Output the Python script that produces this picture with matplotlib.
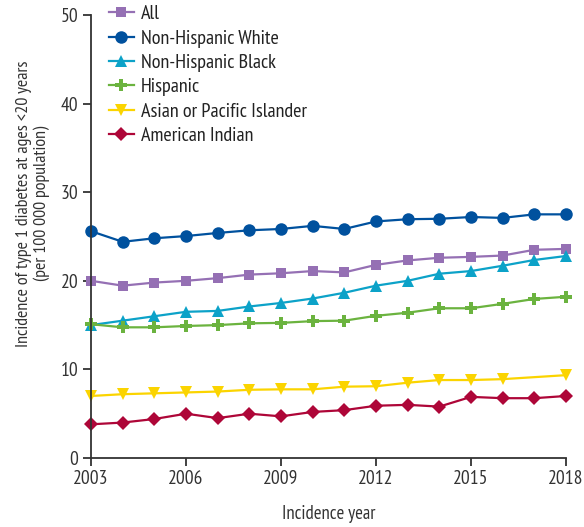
import matplotlib
matplotlib.use("Agg")
import matplotlib.pyplot as plt

years = list(range(2003, 2019))
years_api = [y for y in years if y != 2017]

all_groups = [20.0, 19.45, 19.8, 20.0, 20.3, 20.7, 20.85, 21.1, 20.95, 21.8, 22.3, 22.6, 22.7, 22.85, 23.5, 23.6]
nh_white = [25.6, 24.4, 24.8, 25.05, 25.4, 25.7, 25.85, 26.2, 25.85, 26.7, 26.95, 27.0, 27.2, 27.1, 27.5, 27.5]
nh_black = [15.0, 15.5, 16.0, 16.5, 16.6, 17.1, 17.5, 18.0, 18.65, 19.45, 20.0, 20.8, 21.1, 21.7, 22.35, 22.8]
hispanic = [15.1, 14.75, 14.75, 14.9, 15.0, 15.2, 15.25, 15.45, 15.5, 16.05, 16.4, 16.9, 16.9, 17.4, 17.95, 18.2]
asian_pi = [7.0, 7.2, 7.3, 7.4, 7.5, 7.7, 7.75, 7.75, 8.05, 8.1, 8.5, 8.8, 8.8, 8.9, 9.35]
am_indian = [3.8, 4.0, 4.4, 5.0, 4.5, 5.0, 4.7, 5.2, 5.4, 5.9, 6.0, 5.8, 6.9, 6.75, 6.75, 7.0]

labels = ["All", "Non-Hispanic White", "Non-Hispanic Black", "Hispanic",
          "Asian or Pacific Islander", "American Indian"]
xticks = [2003, 2006, 2009, 2012, 2015, 2018]
yticks = [0, 10, 20, 30, 40, 50]

plt.rcParams['font.family'] = ['PT Sans Narrow', 'Liberation Sans Narrow', 'DejaVu Sans']

fig = plt.figure(figsize=(5.84, 5.27), dpi=100)
ax = fig.add_axes([91 / 584, 1 - 458 / 527, 475 / 584, 443 / 527])

series = [
    (years, all_groups, "#9570B4", "s", 7.5),
    (years, nh_white, "#00519E", "o", 9),
    (years, nh_black, "#0CA2C8", "^", 8),
    (years, hispanic, "#6BB33F", "P", 8.5),
    (years_api, asian_pi, "#FBD400", "v", 8),
    (years, am_indian, "#AE0638", "D", 7.5),
]

for (x, y, c, m, ms), lab in zip(series, labels):
    ax.plot(x, y, color=c, marker=m, markersize=ms, linewidth=1.6,
            label=lab, clip_on=False, markeredgewidth=0)

ax.set_xlim(2003, 2018)
ax.set_ylim(0, 50)
ax.set_xticks(xticks)
ax.set_yticks(yticks)
for s in ["top", "right"]:
    ax.spines[s].set_visible(False)
for s in ["left", "bottom"]:
    ax.spines[s].set_linewidth(1.3)
    ax.spines[s].set_color("#333333")
ax.tick_params(direction="out", length=6, width=1.3, color="#333333",
               labelsize=14, labelcolor="#333333", pad=3)

ax.set_xlabel("Incidence year", fontsize=13.5, color="#333333", labelpad=12)
ax.set_ylabel("Incidence of type 1 diabetes at ages <20 years\n(per 100 000 population)",
              fontsize=13, color="#333333", linespacing=1.15)
ax.yaxis.set_label_coords(-0.086, 0.575)

leg = ax.legend(loc="upper left", bbox_to_anchor=(0.02, 1.04), frameon=False,
                fontsize=14.5, handlelength=1.25, handletextpad=0.35,
                labelspacing=0.31, borderaxespad=0)
for t in leg.get_texts():
    t.set_color("#222222")

fig.savefig("out.png", dpi=100)
